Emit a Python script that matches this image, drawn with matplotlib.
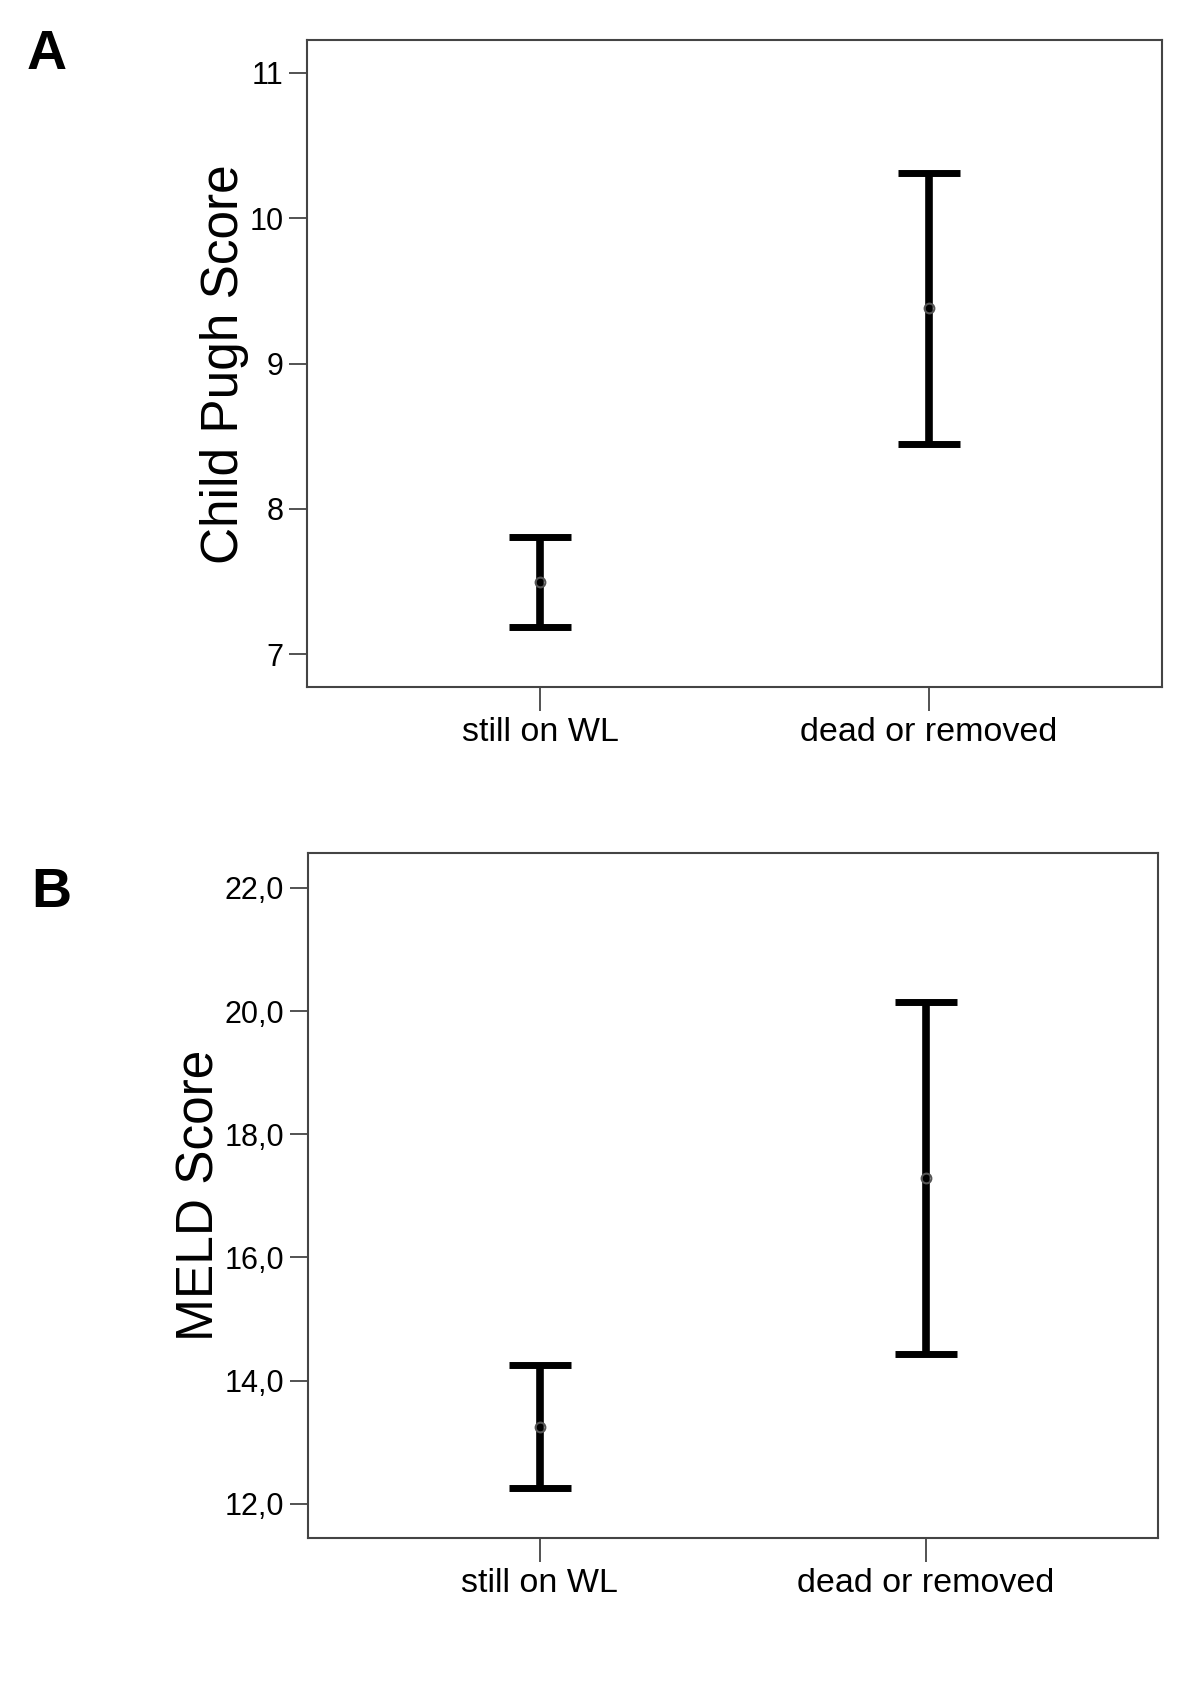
import matplotlib.pyplot as plt
from matplotlib.ticker import FuncFormatter

plt.rcParams['font.family'] = ['Liberation Sans', 'DejaVu Sans']

# Gruppi
gruppi = ['still on WL', 'dead or removed']

# Child Pugh: media e limiti dell'intervallo
cp_media = [7.50, 9.38]
cp_basso = [7.19, 8.45]
cp_alto = [7.81, 10.31]

# MELD: media e limiti dell'intervallo
meld_media = [13.25, 17.29]
meld_basso = [12.25, 14.43]
meld_alto = [14.25, 20.14]

fig = plt.figure(figsize=(12, 17), dpi=100)
ax1 = fig.add_axes([0.256, 0.596, 0.712, 0.3805])
ax2 = fig.add_axes([0.2564, 0.0955, 0.7086, 0.4025])


def disegna(ax, media, basso, alto, ylim, yticks, fmt, ylabel):
    x = list(range(len(gruppi)))
    err = [[m - b for m, b in zip(media, basso)], [a - m for a, m in zip(alto, media)]]
    ax.errorbar(x, media, yerr=err, fmt='none', ecolor='black', elinewidth=5.5,
                capsize=22.5, capthick=5)
    ax.plot(x, media, 'o', markersize=7, markerfacecolor='none',
            markeredgecolor='#555555', markeredgewidth=1.5, zorder=5)
    ax.set_xlim(-0.60, 1.60)
    ax.set_ylim(*ylim)
    ax.set_yticks(yticks)
    ax.yaxis.set_major_formatter(FuncFormatter(fmt))
    ax.set_xticks(x)
    ax.set_xticklabels(gruppi)
    ax.tick_params(axis='y', length=13, width=1.3, color='#444444', labelsize=22, pad=4)
    ax.tick_params(axis='x', length=17, width=1.3, color='#444444', labelsize=24.5, pad=5)
    for s in ax.spines.values():
        s.set_color('#444444')
        s.set_linewidth(1.5)
    ax.set_ylabel(ylabel, fontsize=37)


disegna(ax1, cp_media, cp_basso, cp_alto, (6.777, 11.225), [7, 8, 9, 10, 11],
        lambda v, p: '%d' % v, 'Child Pugh Score')
disegna(ax2, meld_media, meld_basso, meld_alto, (11.45, 22.56), [12, 14, 16, 18, 20, 22],
        lambda v, p: ('%.1f' % v).replace('.', ','), 'MELD Score')

# posizione delle etichette y in coordinate della figura
ax1.yaxis.set_label_coords(0.2075, 0.786, transform=fig.transFigure)
ax2.yaxis.set_label_coords(0.1875, 0.297, transform=fig.transFigure)

fig.text(0.022, 0.983, 'A', fontsize=40, fontweight='bold', va='top', ha='left')
fig.text(0.026, 0.490, 'B', fontsize=40, fontweight='bold', va='top', ha='left')

fig.savefig('out.png', dpi=100, facecolor='white')
